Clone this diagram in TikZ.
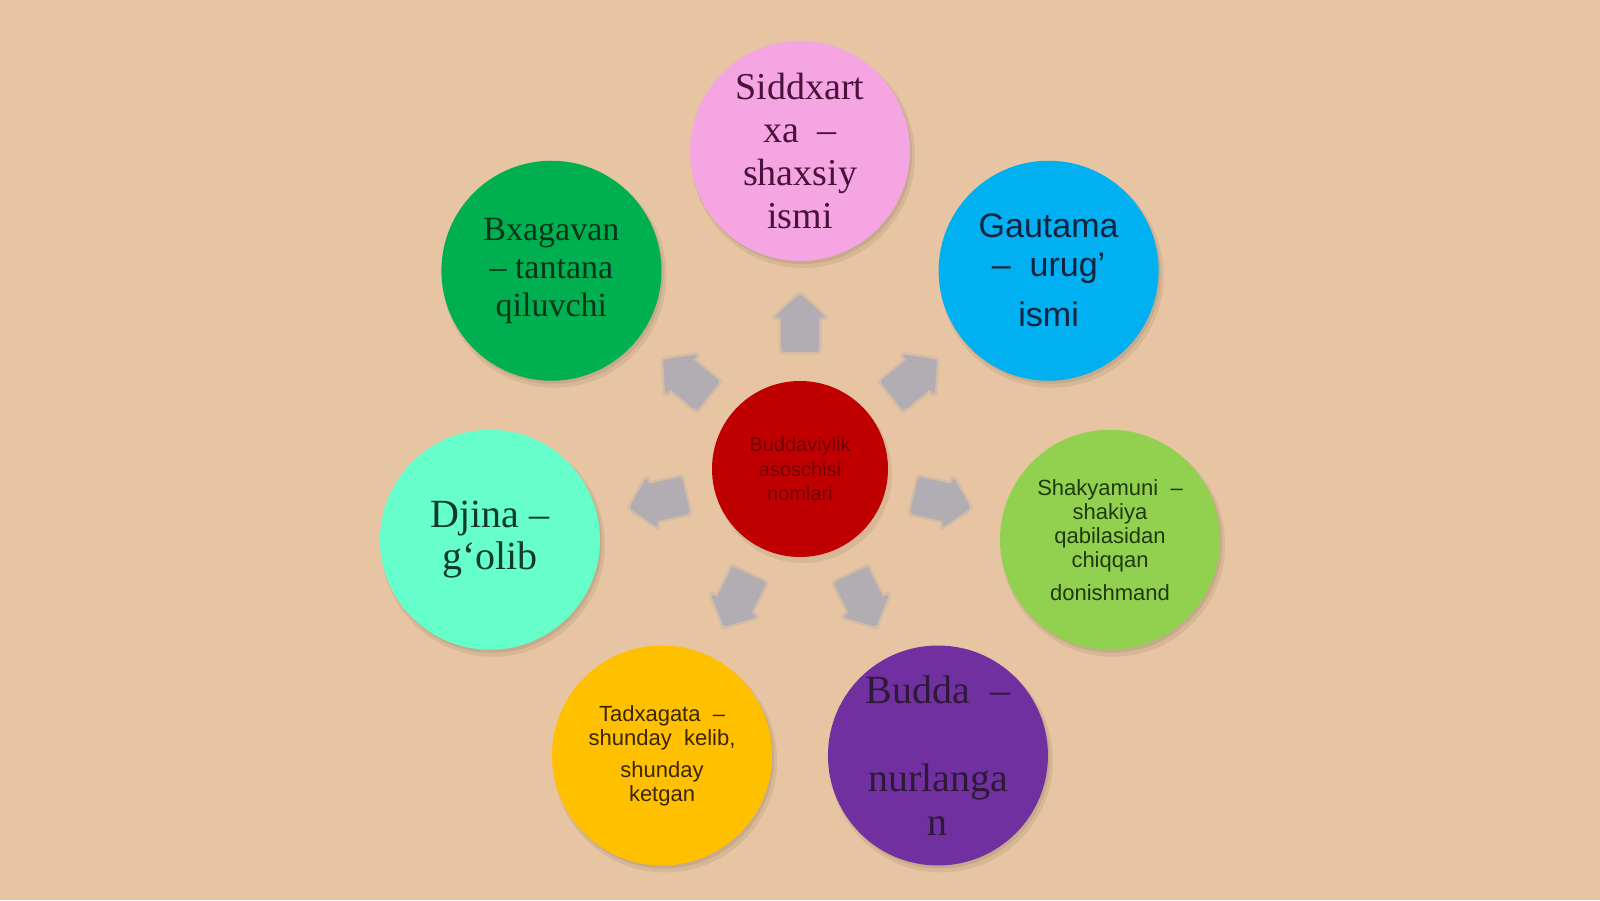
\documentclass[tikz,border=0pt]{standalone}
\usepackage{fontspec}
\setmainfont{Liberation Serif}
\setsansfont{Liberation Sans}
\usetikzlibrary{calc}
\definecolor{bg}{HTML}{E7C5A2}
\definecolor{arrowgray}{HTML}{B2ADB3}
\definecolor{pinkc}{HTML}{F4A5E2}
\definecolor{bluec}{HTML}{00B0F0}
\definecolor{lgreenc}{HTML}{92D050}
\definecolor{purplec}{HTML}{7030A0}
\definecolor{yellowc}{HTML}{FFC000}
\definecolor{aquac}{HTML}{66FFCC}
\definecolor{greenc}{HTML}{00B050}
\definecolor{redc}{HTML}{C00000}
\definecolor{pinktext}{HTML}{4A1238}
\definecolor{bluetext}{HTML}{10233F}
\definecolor{greentext}{HTML}{08341A}
\definecolor{aquatext}{HTML}{0E3A2C}
\definecolor{lgreentext}{HTML}{1E3A0C}
\definecolor{yellowtext}{HTML}{3A2600}
\definecolor{purpletext}{HTML}{2E1A38}
\definecolor{redtext}{HTML}{700000}
\tikzset{
  bubble/.style={circle, minimum size=220pt, inner sep=0pt, align=center},
  hub/.style={circle, minimum size=176pt, inner sep=0pt, align=center},
  softshadow/.style={fill=black, opacity=0.07},
  blockarrow/.style={fill=arrowgray, draw=arrowgray, line width=2pt, rounded corners=2pt},
  arrowblur/.style={draw=arrowgray, line width=7pt, opacity=0.35, line join=round}
}
\begin{document}
\begin{tikzpicture}[x=1pt,y=1pt]
\fill[bg] (0,0) rectangle (1600,900);
\useasboundingbox (0,0) rectangle (1600,900);
\coordinate (c) at (800,431);

% soft shadows
\foreach \k in {0,...,6}{
  \pgfmathsetmacro\ang{90-\k*360/7}
  \fill[softshadow] ($(c)+(\ang:318)+(3,-5)$) circle (112pt);
  \fill[softshadow] ($(c)+(\ang:318)+(2,-3)$) circle (110pt);
}
\fill[softshadow] ($(c)+(3,-5)$) circle (89pt);

% block arrows (soft edged)
\foreach \k in {0,...,6}{
  \pgfmathsetmacro\ang{90-\k*360/7}
  \begin{scope}[shift={($(c)+(\ang:146)$)}, rotate=\ang]
    \draw[arrowblur]
      (-28,-18) -- (6,-18) -- (6,-24) -- (28,0) -- (6,24) -- (6,18) -- (-28,18) -- cycle;
    \draw[blockarrow]
      (-28,-18) -- (6,-18) -- (6,-24) -- (28,0) -- (6,24) -- (6,18) -- (-28,18) -- cycle;
  \end{scope}
}

% center
\node[hub, fill=redc, text=redtext, font=\sffamily\fontsize{20}{24.5}\selectfont] (center) at (c)
  {Buddaviylik\\asoschisi\\nomlari};

% outer circles
\node[bubble, fill=pinkc, text=pinktext, font=\fontsize{38}{43}\selectfont] (siddxarta)
  at ($(c)+(90:318)$) {Siddxart\\xa \ –\\shaxsiy\\ismi};
\node[bubble, fill=bluec, text=bluetext, font=\sffamily\fontsize{34}{39}\selectfont] (gautama)
  at ($(c)+(38.571:318)$) {Gautama\\–\ \ urug'\\[11pt]ismi};
\node[bubble, fill=lgreenc, text=lgreentext, font=\sffamily\fontsize{22}{24}\selectfont] (shakyamuni)
  at ($(c)+(-12.857:318)$) {Shakyamuni \ –\\shakiya\\qabilasidan\\chiqqan\\[9pt]donishmand};
\node[bubble, fill=purplec, text=purpletext, font=\fontsize{40}{44}\selectfont] (budda)
  at ($(c)+(-64.286:318)$) {Budda \ –\\\mbox{}\\nurlanga\\n};
\node[bubble, fill=yellowc, text=yellowtext, font=\sffamily\fontsize{22}{24}\selectfont] (tadxagata)
  at ($(c)+(-115.714:318)$) {Tadxagata \ –\\shunday \ kelib,\\[8pt]shunday\\ketgan};
\node[bubble, fill=aquac, text=aquatext, font=\fontsize{40}{42}\selectfont] (djina)
  at ($(c)+(-167.143:318)$) {Djina –\\g‘olib};
\node[bubble, fill=greenc, text=greentext, font=\fontsize{34}{38}\selectfont] (bxagavan)
  at ($(c)+(141.429:318)$) {Bxagavan\\– tantana\\qiluvchi};
\end{tikzpicture}
\end{document}
